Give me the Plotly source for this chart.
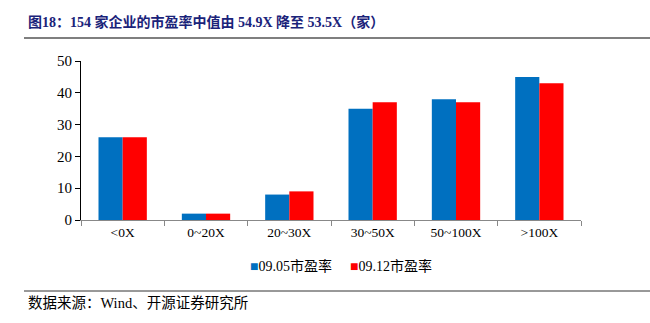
import plotly.graph_objects as go

categories = ["<0X", "0~20X", "20~30X", "30~50X", "50~100X", ">100X"]
s1_name = "09.05市盈率"
s1_values = [26, 2, 8, 35, 38, 45]
s2_name = "09.12市盈率"
s2_values = [26, 2, 9, 37, 37, 43]
y_ticks = [0, 10, 20, 30, 40, 50]

title_text = "图18：154 家企业的市盈率中值由 54.9X 降至 53.5X（家）"
source_text = "数据来源：Wind、开源证券研究所"
c1, c2 = "#0070C0", "#FF0000"

W, H = 650, 323
L, R, T, B = 81, 69, 61, 103
pw, ph = W - L - R, H - T - B

def px_x(p):
    return (p - L) / pw

def px_y(p):
    return (H - B - p) / ph

font_fam = "Liberation Serif, Times New Roman, Noto Sans CJK SC, serif"

fig = go.Figure()
fig.add_trace(go.Bar(x=categories, y=s1_values, name=s1_name, marker=dict(color=c1, line=dict(width=0))))
fig.add_trace(go.Bar(x=categories, y=s2_values, name=s2_name, marker=dict(color=c2, line=dict(width=0))))

fig.update_layout(
    width=W, height=H,
    margin=dict(l=L, r=R, t=T, b=B, autoexpand=False),
    paper_bgcolor="white", plot_bgcolor="white",
    barmode="group", bargap=0.42, bargroupgap=0,
    font=dict(family=font_fam, size=13, color="black"),
    showlegend=False,
)
fig.update_xaxes(showline=True, linecolor="#888888", linewidth=1, ticks="outside",
                 tickson="boundaries", ticklen=5, tickcolor="#888888", showgrid=False,
                 tickfont=dict(size=13.5), automargin=False)
fig.update_yaxes(range=[0, 50], tickvals=y_ticks, showline=True, linecolor="black", linewidth=1,
                 ticks="outside", ticklen=5, tickcolor="black", showgrid=False, zeroline=False,
                 tickfont=dict(size=15), automargin=False)

# legend as text
for name, col, xp in [(s1_name, c1, 248), (s2_name, c2, 348)]:
    fig.add_annotation(text=f"<span style='color:{col}'>■</span>{name}", xref="paper", yref="paper",
                       x=px_x(xp), y=px_y(266), xanchor="left", yanchor="middle", showarrow=False,
                       font=dict(size=14, family=font_fam, color="black"))

fig.add_annotation(text="<b>" + title_text + "</b>", xref="paper", yref="paper",
                   x=px_x(26), y=px_y(22), xanchor="left", yanchor="middle", showarrow=False,
                   font=dict(size=14, color="#1A237A", family=font_fam))
fig.add_shape(type="line", xref="paper", yref="paper", x0=px_x(24), x1=px_x(650),
              y0=px_y(38), y1=px_y(38), line=dict(color="#555555", width=1.5))
fig.add_shape(type="line", xref="paper", yref="paper", x0=px_x(24), x1=px_x(650),
              y0=px_y(291), y1=px_y(291), line=dict(color="#333333", width=1))
fig.add_annotation(text=source_text, xref="paper", yref="paper",
                   x=px_x(26), y=px_y(303), xanchor="left", yanchor="middle", showarrow=False,
                   font=dict(size=14.5, color="black", family=font_fam))

fig.write_html("out.html")
